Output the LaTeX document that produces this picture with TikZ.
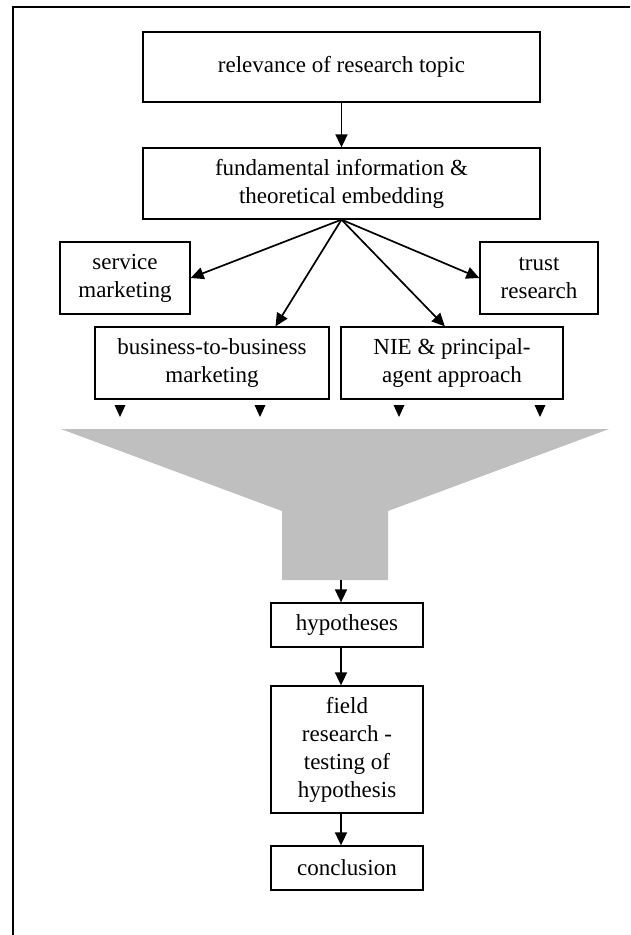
\documentclass[tikz,border=0pt]{standalone}
\usepackage{fontspec}
\setmainfont{Liberation Serif}
\usetikzlibrary{arrows.meta}

\tikzset{
  box/.style={draw, line width=1.3pt, rectangle, inner sep=0pt, align=center,
              font=\fontsize{23}{28}\selectfont},
  arr/.style={draw, line width=1.7pt, -{Triangle[length=13pt,width=12pt]}},
  funnelfill/.style={fill=black!25, draw=none},
  frameline/.style={line width=2.2pt}
}

\begin{document}
\begin{tikzpicture}[x=1pt,y=-1pt]
  \useasboundingbox (0,0) rectangle (630,935);

  % outer frame (top and left edges)
  \draw[frameline] (630,7) -- (13,7) -- (13,935);

  % boxes
  \node[box, minimum width=397pt, minimum height=70pt] (topic) at (341.5,67)
    {relevance of research topic};
  \node[box, minimum width=397pt, minimum height=71pt] (fund) at (341.5,183.5)
    {fundamental information \&\\theoretical embedding};
  \node[box, minimum width=130pt, minimum height=72pt] (svc) at (125,278)
    {service\\marketing};
  \node[box, minimum width=118pt, minimum height=72pt] (trust) at (539,278)
    {trust\\research};
  \node[box, minimum width=234pt, minimum height=72pt] (btob) at (212,363)
    {business-to-business\\marketing};
  \node[box, minimum width=222pt, minimum height=72pt] (nie) at (452,363)
    {NIE \& principal-\\agent approach};
  \node[box, minimum width=152pt, minimum height=44pt] (hyp) at (347,625)
    {hypotheses};
  \node[box, minimum width=152pt, minimum height=127pt] (field) at (347,749.5)
    {field\\research -\\testing of\\hypothesis};
  \node[box, minimum width=152pt, minimum height=44pt] (concl) at (347,868)
    {conclusion};

  % funnel
  \path[funnelfill] (61,429) -- (609,429) -- (388,511) -- (388,580)
    -- (282,580) -- (282,511) -- cycle;
  \coordinate (stemout) at (341,580);

  % small arrowheads above the funnel
  \foreach \tx in {120,260,399,540}
    \fill (\tx-5.5,405) -- (\tx+5.5,405) -- (\tx,417) -- cycle;

  % connectors
  \draw[arr] (topic.south) -- (fund.north);
  \draw[arr] (fund.south) -- (svc.east);
  \draw[arr] (fund.south) -- (trust.west);
  \draw[arr] (fund.south) -- (btob.30.5);
  \draw[arr] (fund.south) -- (nie.101);
  \draw[arr] (stemout) -- (stemout |- hyp.north);
  \draw[arr] ([xshift=-6pt]hyp.south) -- ([xshift=-6pt]field.north);
  \draw[arr] ([xshift=-6pt]field.south) -- ([xshift=-6pt]concl.north);
\end{tikzpicture}
\end{document}
